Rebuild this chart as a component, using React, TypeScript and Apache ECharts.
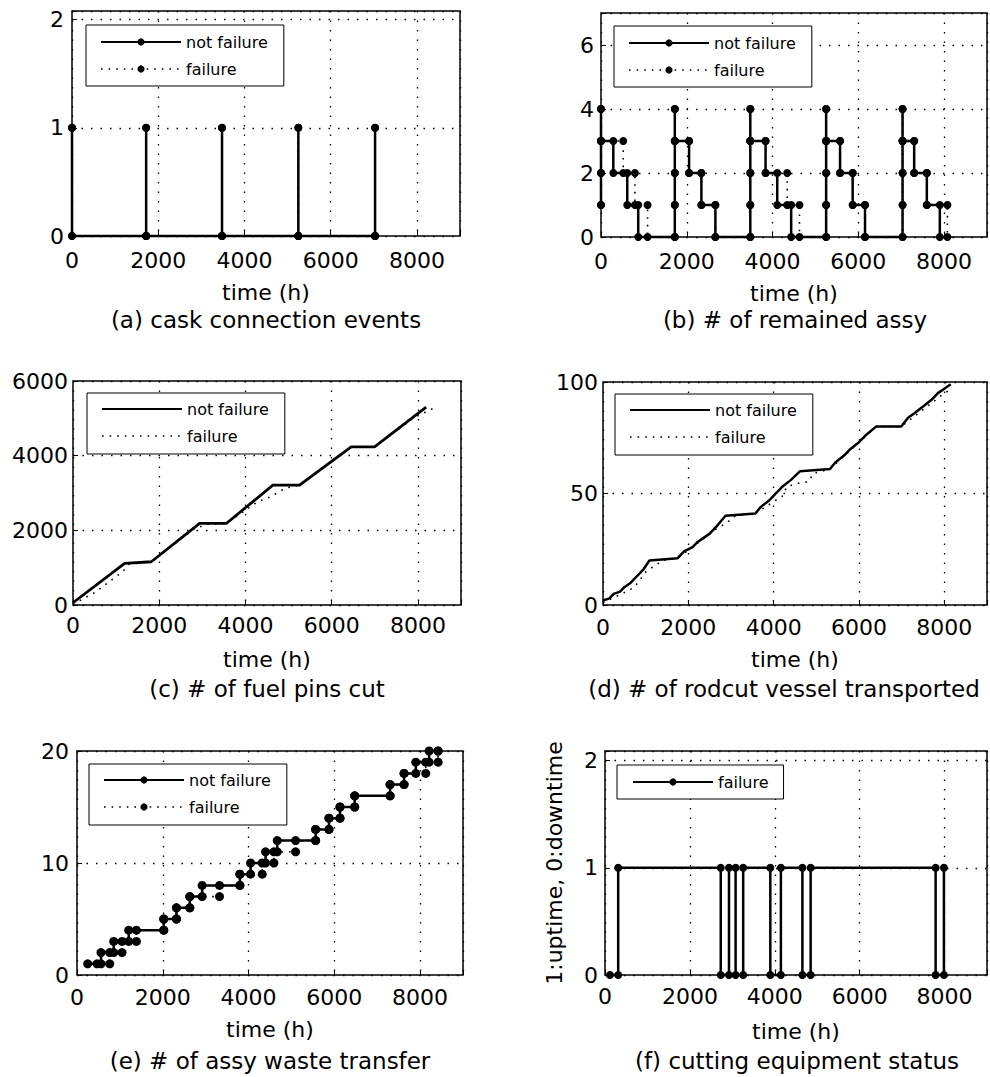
import React, { useEffect, useRef } from 'react';
import * as echarts from 'echarts';

const FONT = 'DejaVu Sans';
const X_MAX = 9000;
const X_STEP = 2000;

// (a) cask connection events
const aNotFailure: number[][] = [
  [0, 1], [0, 0], [1720, 0], [1720, 1], [1720, 0], [3480, 0], [3480, 1], [3480, 0],
  [5250, 0], [5250, 1], [5250, 0], [7030, 0], [7030, 1], [7030, 0],
];
const aFailure: number[][] = [
  [0, 1], [0, 0], [1720, 0], [1720, 1], [1720, 0], [3480, 0], [3480, 1], [3480, 0],
  [5250, 0], [5250, 1], [5250, 0], [7030, 0], [7030, 1], [7030, 0],
];

// (b) # of remained assy
const bNotFailure: number[][] = [
  [0, 1], [0, 2], [0, 3], [0, 4], [0, 3], [287, 3], [287, 2], [612, 2], [612, 1], [868, 1], [868, 0],
  [1721, 0], [1721, 1], [1721, 2], [1721, 3], [1721, 4], [1721, 3], [2054, 3], [2054, 2], [2341, 2], [2341, 1], [2667, 1], [2667, 0],
  [3481, 0], [3481, 1], [3481, 2], [3481, 3], [3481, 4], [3481, 3], [3837, 3], [3837, 2], [4109, 2], [4109, 1], [4434, 1], [4434, 0],
  [5249, 0], [5249, 1], [5249, 2], [5249, 3], [5249, 4], [5249, 3], [5574, 3], [5574, 2], [5868, 2], [5868, 1], [6156, 1], [6156, 0],
  [7031, 0], [7031, 1], [7031, 2], [7031, 3], [7031, 4], [7031, 3], [7302, 3], [7302, 2], [7597, 2], [7597, 1], [7900, 1], [7900, 0],
];
const bFailure: number[][] = [
  [0, 1], [0, 2], [0, 3], [0, 4], [0, 3], [519, 3], [519, 2], [791, 2], [791, 1], [1086, 1], [1086, 0],
  [1721, 0], [1721, 1], [1721, 2], [1721, 3], [1721, 4], [1721, 3], [2054, 3], [2054, 2], [2341, 2], [2341, 1], [2667, 1], [2667, 0],
  [3481, 0], [3481, 1], [3481, 2], [3481, 3], [3481, 4], [3481, 3], [3837, 3], [3837, 2], [4341, 2], [4341, 1], [4628, 1], [4628, 0],
  [5249, 0], [5249, 1], [5249, 2], [5249, 3], [5249, 4], [5249, 3], [5574, 3], [5574, 2], [5868, 2], [5868, 1], [6156, 1], [6156, 0],
  [7031, 0], [7031, 1], [7031, 2], [7031, 3], [7031, 4], [7031, 3], [7302, 3], [7302, 2], [7597, 2], [7597, 1], [8077, 1], [8077, 0],
];

// (c) # of fuel pins cut
const cNotFailure: number[][] = [
  [0, 60], [1198, 1114], [1816, 1159], [2937, 2184], [3555, 2184], [4637, 3209],
  [5255, 3209], [6453, 4234], [6994, 4234], [8192, 5303],
];
const cFailure: number[][] = [
  [0, 20], [500, 330], [1160, 900], [1300, 1090], [1816, 1159], [2800, 2030], [3090, 2160],
  [3555, 2184], [4300, 2780], [4480, 2840], [4950, 3140], [5255, 3209], [6453, 4234],
  [6994, 4234], [7920, 5030], [8350, 5260],
];

// (d) # of rodcut vessel transported
const dNotFailure: number[][] = [
  [0, 2], [150, 3], [250, 5], [400, 6], [500, 8], [650, 10], [800, 13], [950, 16], [1090, 20], [1750, 21],
  [1900, 24], [2100, 26], [2200, 28], [2350, 30], [2500, 32], [2650, 35], [2870, 40], [3570, 41],
  [3700, 44], [3900, 47], [4050, 50], [4200, 53], [4400, 56], [4620, 60], [5320, 61],
  [5450, 64], [5650, 67], [5800, 70], [6000, 73], [6150, 76], [6400, 80], [6990, 80],
  [7150, 84], [7300, 86], [7500, 89], [7700, 92], [7850, 95], [8000, 97], [8150, 99],
];
const dFailure: number[][] = [
  [0, 1], [543, 6], [738, 8], [1009, 15], [1242, 18], [1400, 20], [1750, 21],
  [2650, 34], [2911, 37], [3100, 40], [3570, 41],
  [4050, 47], [4193, 48.5], [4309, 53], [4542, 54.5], [4814, 55.2], [4930, 59], [5320, 61],
  [6400, 80], [6990, 80], [8000, 95], [8191, 97],
];

// (e) # of assy waste transfer
const eNotFailure: number[][] = [
  [249, 1], [560, 1], [560, 2], [856, 2], [856, 3], [1206, 3], [1206, 4], [2023, 4], [2023, 5],
  [2319, 5], [2319, 6], [2630, 6], [2630, 7], [2918, 7], [2918, 8], [3798, 8], [3798, 9],
  [4047, 9], [4047, 10], [4397, 10], [4397, 11], [4669, 11], [4669, 12], [5564, 12], [5564, 13],
  [5875, 13], [5875, 14], [6132, 14], [6132, 15], [6475, 15], [6475, 16], [7300, 16], [7300, 17],
  [7626, 17], [7626, 18], [7899, 18], [7899, 19], [8210, 19], [8210, 20], [8420, 20],
];
const eFailure: number[][] = [
  [467, 1], [763, 1], [763, 2], [1050, 2], [1050, 3], [1385, 3], [1385, 4], [2023, 4], [2023, 5],
  [2319, 5], [2319, 6], [2630, 6], [2630, 7], [3323, 7], [3323, 8], [3798, 8], [3798, 9],
  [4319, 9], [4319, 10], [4591, 10], [4591, 11], [5097, 11], [5097, 12], [5564, 12], [5564, 13],
  [5875, 13], [5875, 14], [6132, 14], [6132, 15], [6475, 15], [6475, 16], [7300, 16], [7300, 17],
  [7626, 17], [7626, 18], [8132, 18], [8132, 19], [8420, 19], [8420, 20],
];

// (f) cutting equipment status (1: uptime, 0: downtime)
const fFailure: number[][] = [
  [117, 0], [311, 0], [311, 1], [2727, 1], [2727, 0], [2921, 0], [2921, 1], [3077, 1], [3077, 0],
  [3256, 0], [3256, 1], [3895, 1], [3895, 0], [4144, 0], [4144, 1], [4651, 1], [4651, 0],
  [4845, 0], [4845, 1], [7790, 1], [7790, 0], [7985, 0], [7985, 1],
];

const captions = [
  '(a) cask connection events',
  '(b) # of remained assy',
  '(c) # of fuel pins cut',
  '(d) # of rodcut vessel transported',
  '(e) # of assy waste transfer',
  '(f) cutting equipment status',
];

// layout (pixels) for each panel
const layout = [
  { grid: { left: 72, top: 11, width: 388, height: 225 }, yMax: 2.08, yStep: 1, xMargin: 13, yMargin: 8, nameGap: 45, legend: { left: 86, top: 25, padding: [9, 16, 9, 14] }, cap: [266, 320] },
  { grid: { left: 601, top: 13, width: 387, height: 224 }, yMax: 7, yStep: 2, xMargin: 13, yMargin: 7, nameGap: 45, legend: { left: 614, top: 26, padding: [9, 16, 9, 14] }, cap: [795, 320] },
  { grid: { left: 73, top: 381, width: 388, height: 224 }, yMax: 6000, yStep: 2000, xMargin: 9, yMargin: 5, nameGap: 43, legend: { left: 87, top: 393, padding: [8, 16, 10, 14] }, cap: [267, 689] },
  { grid: { left: 603, top: 382, width: 386, height: 223 }, yMax: 100, yStep: 50, xMargin: 11, yMargin: 5, nameGap: 43, legend: { left: 615, top: 394, padding: [8, 16, 10, 14] }, cap: [784, 689] },
  { grid: { left: 77, top: 751, width: 386, height: 224 }, yMax: 20, yStep: 10, xMargin: 11, yMargin: 8, nameGap: 43, legend: { left: 89, top: 764, padding: [8, 16, 10, 14] }, cap: [270, 1061] },
  { grid: { left: 605, top: 751, width: 385, height: 224 }, yMax: 2.09, yStep: 1, xMargin: 10, yMargin: 7, nameGap: 45, legend: { left: 617, top: 765, padding: [9, 15, 9, 15] }, cap: [797, 1061] },
];

const solidLine = (w: number) => ({ color: '#000', width: w });
const dottedLine = { color: '#000', width: 1.6, type: [1.6, 6] as number[] };

function mkSeries(panel: number, key: string, data: number[][], dotted: boolean, symbolSize: number, lineW: number) {
  return {
    type: 'line',
    name: `${panel}|${key}`,
    xAxisIndex: panel,
    yAxisIndex: panel,
    data,
    clip: false,
    symbol: symbolSize > 0 ? 'circle' : 'none',
    symbolSize,
    showSymbol: symbolSize > 0,
    itemStyle: { color: '#000' },
    lineStyle: dotted ? dottedLine : solidLine(lineW),
    emphasis: { disabled: true },
    z: dotted ? 2 : 3,
  };
}

function buildOption() {
  const series = [
    mkSeries(0, 'failure', aFailure, true, 8, 2.5),
    mkSeries(0, 'not failure', aNotFailure, false, 8, 2.5),
    mkSeries(1, 'failure', bFailure, true, 8, 2.5),
    mkSeries(1, 'not failure', bNotFailure, false, 8, 2.5),
    mkSeries(2, 'failure', cFailure, true, 0, 2.8),
    mkSeries(2, 'not failure', cNotFailure, false, 0, 2.8),
    mkSeries(3, 'failure', dFailure, true, 0, 2.5),
    mkSeries(3, 'not failure', dNotFailure, false, 0, 2.5),
    mkSeries(4, 'failure', eFailure, true, 9, 2.5),
    mkSeries(4, 'not failure', eNotFailure, false, 9, 2.5),
    mkSeries(5, 'failure', fFailure, false, 8, 2.5),
  ];

  const gridLine = { show: true, lineStyle: { color: '#000', width: 1.3, type: [1.5, 8] } };
  const tick = { show: true, inside: true, length: 5, lineStyle: { color: '#000', width: 1 } };
  const label = { fontFamily: FONT, fontSize: 22, color: '#000' };

  const grid = layout.map((l) => ({
    ...l.grid, show: true, borderColor: '#000', borderWidth: 1.5, backgroundColor: 'transparent', containLabel: false,
  }));

  const xAxis = layout.map((l, i) => ({
    type: 'value', gridIndex: i, min: 0, max: X_MAX, interval: X_STEP,
    name: 'time (h)', nameLocation: 'middle', nameGap: l.nameGap,
    nameTextStyle: { fontFamily: FONT, fontSize: 22, color: '#000' },
    axisLine: { show: false }, axisTick: tick, splitLine: gridLine,
    axisLabel: { ...label, margin: l.xMargin, formatter: (v: number) => (v % X_STEP === 0 && v < X_MAX ? String(v) : '') },
  }));

  const yAxis = layout.map((l, i) => ({
    type: 'value', gridIndex: i, min: 0, max: l.yMax, interval: l.yStep,
    axisLine: { show: false }, axisTick: tick, splitLine: gridLine,
    axisLabel: { ...label, margin: l.yMargin, formatter: (v: number) => (Math.abs(v / l.yStep - Math.round(v / l.yStep)) < 1e-9 ? String(v) : '') },
    ...(i === 5 ? {
      name: '1:uptime, 0:downtime', nameLocation: 'middle', nameRotate: 90, nameGap: 40,
      nameTextStyle: { fontFamily: FONT, fontSize: 22, color: '#000' },
    } : {}),
  }));

  const legend = layout.map((l, i) => ({
    show: true,
    left: l.legend.left, top: l.legend.top, padding: l.legend.padding,
    orient: 'vertical', itemWidth: 80, itemHeight: 9, itemGap: 11,
    borderColor: '#000', borderWidth: 1, backgroundColor: '#fff', borderRadius: 0,
    selectedMode: false,
    textStyle: { fontFamily: FONT, fontSize: 16, color: '#000' },
    formatter: (n: string) => n.split('|')[1],
    ...(i === 2 || i === 3 ? { itemStyle: { opacity: 0 } } : {}),
    data: i === 5
      ? [{ name: `${i}|failure` }]
      : [{ name: `${i}|not failure` }, { name: `${i}|failure`, lineStyle: { width: 1.6 } }],
  }));

  const graphic = layout.map((l, i) => ({
    type: 'text', x: l.cap[0], y: l.cap[1],
    style: { text: captions[i], fontFamily: FONT, fontSize: 23, fill: '#000', textAlign: 'center', textVerticalAlign: 'middle' },
  }));

  return {
    animation: false,
    backgroundColor: '#fff',
    textStyle: { fontFamily: FONT },
    grid, xAxis, yAxis, legend, series, graphic,
  };
}

export default function App() {
  const ref = useRef<HTMLDivElement>(null);
  useEffect(() => {
    const chart = echarts.init(ref.current!, undefined, { renderer: 'svg' });
    chart.setOption(buildOption() as any);
    return () => chart.dispose();
  }, []);
  return (
    <div
      ref={ref}
      style={{ position: 'absolute', left: 0, top: 0, width: 990, height: 1077, background: '#fff' }}
    />
  );
}
